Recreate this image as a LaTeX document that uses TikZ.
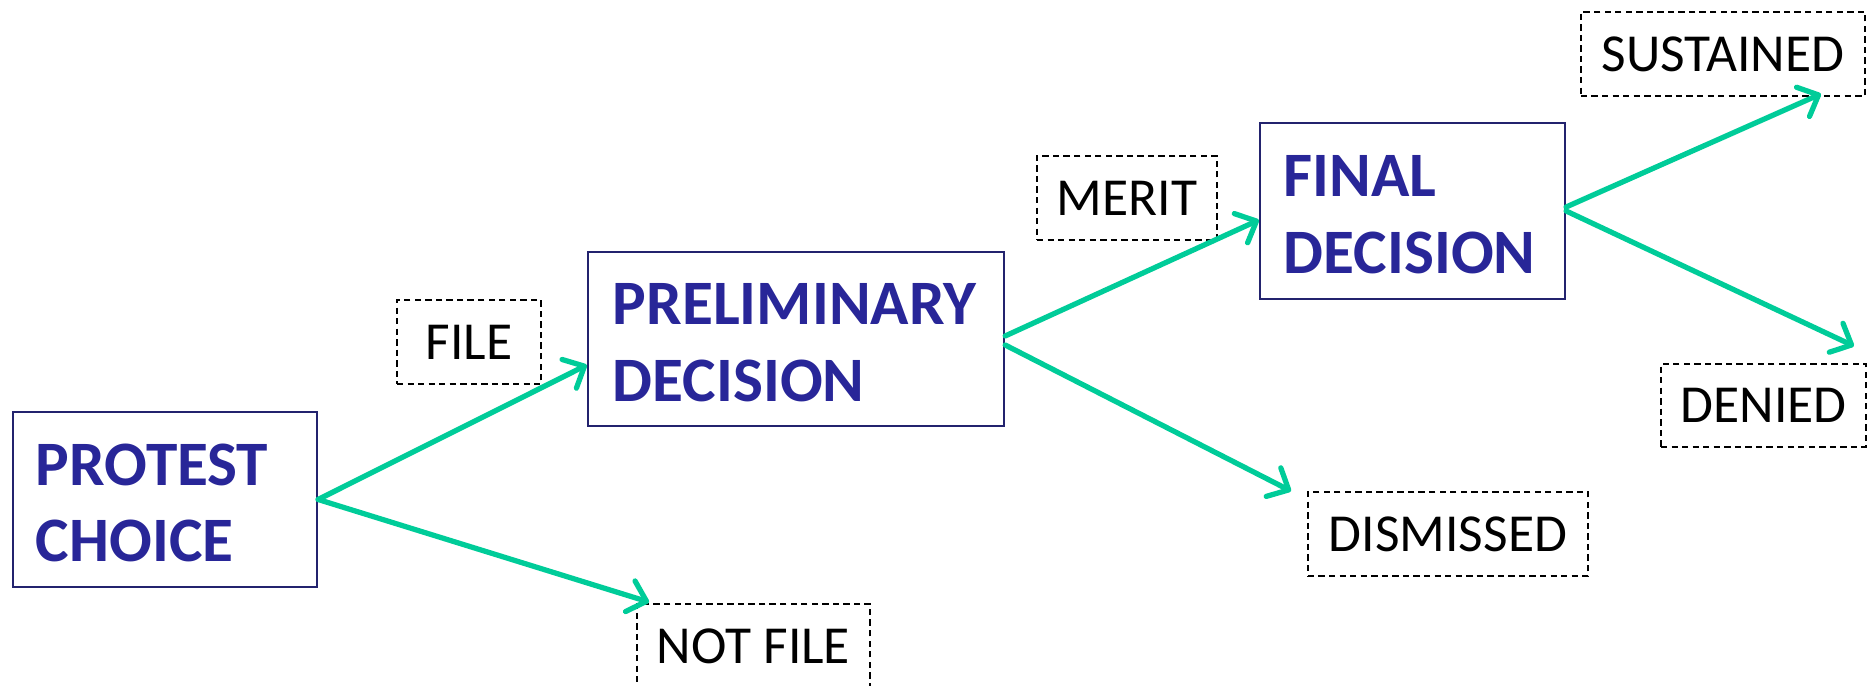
\documentclass[tikz,border=0pt]{standalone}
\usepackage{fontspec}
\setmainfont{Carlito}
\usetikzlibrary{arrows.meta}
\definecolor{boxblue}{RGB}{40,38,152}
\definecolor{boxedge}{RGB}{35,35,110}
\definecolor{arrowgreen}{RGB}{0,204,153}
\newcommand\mytopgap{\rule{0pt}{13.8pt}}
\begin{document}
\begin{tikzpicture}[x=0.01cm,y=-0.01cm,
  bigbox/.style={draw=boxedge, line width=0.6pt, align=left, font=\fontsize{18pt}{21.8pt}\selectfont\bfseries, text=boxblue, inner ysep=0pt},
  tagbox/.style={draw=black, line width=0.5pt, dash pattern=on 1.8pt off 1.2pt, font=\fontsize{15.2pt}{18pt}\selectfont, inner sep=0pt, minimum height=0.84cm},
  flow/.style={draw=arrowgreen, line width=1.5pt, line cap=round, -{Straight Barb[length=0.17cm,width=0.32cm,round]}}
]
\useasboundingbox (0,0) rectangle (1875,686);
\clip (0,0) rectangle (1875,686);

\node[bigbox, text width=2.58cm, inner xsep=0.23cm, minimum height=1.75cm] (protest) at (165,499.5) {\mytopgap PROTEST\\CHOICE};
\node[bigbox, text width=3.66cm, inner xsep=0.25cm, minimum height=1.74cm] (prelim) at (796,339) {\mytopgap PRELIMINARY\\DECISION};
\node[bigbox, text width=2.57cm, inner xsep=0.24cm, minimum height=1.76cm] (final) at (1412.5,211) {\mytopgap FINAL\\DECISION};

\node[tagbox, minimum width=1.44cm] (file) at (469,342) {FILE};
\node[tagbox, minimum width=1.80cm] (merit) at (1127,198) {MERIT};
\node[tagbox, minimum width=2.84cm] (sustained) at (1723,54) {SUSTAINED};
\node[tagbox, minimum width=2.05cm, minimum height=0.83cm] (denied) at (1763.5,405.5) {DENIED};
\node[tagbox, minimum width=2.80cm] (dismissed) at (1448,534) {DISMISSED};
\node[tagbox, minimum width=2.33cm] (notfile) at (753.5,646) {NOT FILE};

\draw[flow] (protest.east) -- ([yshift=-0.26cm]prelim.west);
\draw[flow] (protest.east) -- ([xshift=0.13cm,yshift=0.01cm]notfile.north west);
\draw[flow] ([yshift=0.03cm]prelim.east) -- ([yshift=-0.09cm]final.west);
\draw[flow] ([yshift=-0.06cm]prelim.east) -- ([xshift=-0.16cm]dismissed.north west);
\draw[flow] ([yshift=0.04cm]final.east) -- ([xshift=-0.45cm,yshift=0.03cm]sustained.south east);
\draw[flow] (final.east) -- ([xshift=-0.13cm,yshift=0.17cm]denied.north east);
\end{tikzpicture}
\end{document}
